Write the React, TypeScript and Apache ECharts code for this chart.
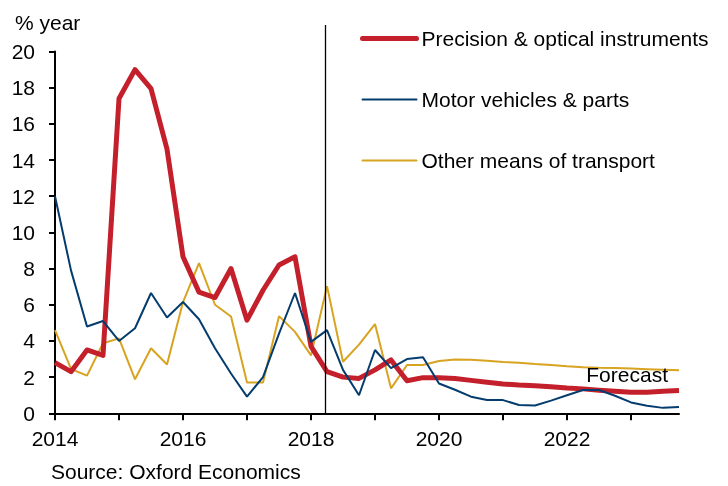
import { useEffect, useRef } from "react";
import * as echarts from "echarts";

const years = ["2014", "2015", "2016", "2017", "2018", "2019", "2020", "2021", "2022", "2023"];
const quarters = ["Q1", "Q2", "Q3", "Q4"];
const categories = years.flatMap((y) => quarters.map((q) => `${y} ${q}`));

const seriesNames = ["Precision & optical instruments", "Motor vehicles & parts", "Other means of transport"];

const precision = [
  2.8, 2.3, 3.5, 3.2, 17.4, 19.0, 17.95, 14.6,
  8.65, 6.7, 6.4, 8.0, 5.15, 6.8, 8.2, 8.65,
  3.7, 2.3, 2.0, 1.93, 2.4, 2.95, 1.8, 1.97,
  1.97, 1.92, 1.82, 1.72, 1.62, 1.56, 1.52, 1.47,
  1.4, 1.35, 1.28, 1.22, 1.16, 1.17, 1.22, 1.26,
];
const motor = [
  12.0, 7.9, 4.8, 5.1, 4.0, 4.7, 6.65, 5.3,
  6.15, 5.2, 3.6, 2.2, 0.92, 2.0, 4.4, 6.65,
  3.95, 4.6, 2.4, 1.0, 3.5, 2.5, 3.0, 3.1,
  1.65, 1.3, 0.92, 0.73, 0.73, 0.46, 0.43, 0.7,
  1.0, 1.29, 1.29, 0.97, 0.6, 0.42, 0.3, 0.35,
];
const other = [
  4.6, 2.45, 2.08, 3.87, 4.14, 1.88, 3.6, 2.7,
  6.15, 8.3, 6.0, 5.35, 1.7, 1.7, 5.37, 4.5,
  3.2, 7.03, 2.85, 3.8, 4.93, 1.38, 2.67, 2.67,
  2.89, 2.97, 2.96, 2.9, 2.84, 2.8, 2.73, 2.67,
  2.6, 2.55, 2.52, 2.5, 2.47, 2.44, 2.41, 2.38,
];

const forecastStart = "2018 Q2";
const yMin = 0;
const yMax = 20;
const yInterval = 2;

const FONT = "'Liberation Sans', Arial, sans-serif";
const RED = "#C3202B";
const NAVY = "#053C6E";
const GOLD = "#D8A321";
const colors = [RED, NAVY, GOLD];
const widths = [5, 2, 2];

export default function App() {
  const ref = useRef<HTMLDivElement>(null);
  useEffect(() => {
    if (!ref.current) return;
    const chart = echarts.init(ref.current, undefined, { renderer: "svg" });
    chart.setOption({
      animation: false,
      textStyle: { fontFamily: FONT },
      grid: { left: 55, right: 49, top: 51.5, bottom: 72.7, containLabel: false },
      legend: {
        orient: "vertical",
        left: 360,
        top: 28,
        padding: 0,
        itemWidth: 54,
        itemHeight: 14,
        itemGap: 40,
        itemStyle: { opacity: 0, borderWidth: 0 },
        data: seriesNames.map((name, i) => ({
          name,
          lineStyle: { color: colors[i], width: widths[i], cap: "round" },
          itemStyle: { opacity: 0, borderWidth: 0 },
        })),
        textStyle: { fontSize: 21, color: "#000", fontFamily: FONT, lineHeight: 21 },
      },
      xAxis: {
        type: "category",
        data: categories,
        boundaryGap: false,
        axisLine: { lineStyle: { color: "#000", width: 2 } },
        axisTick: {
          length: 7,
          interval: (i: number) => i % 4 === 0,
          lineStyle: { color: "#000", width: 2 },
        },
        axisLabel: {
          interval: (i: number) => i % 8 === 0,
          formatter: (v: string) => v.slice(0, 4),
          fontSize: 21,
          color: "#000",
          margin: 15,
          fontFamily: FONT,
        },
        splitLine: { show: false },
      },
      yAxis: {
        type: "value",
        min: yMin,
        max: yMax,
        interval: yInterval,
        axisLine: { show: true, lineStyle: { color: "#000", width: 2 } },
        axisTick: { show: true, length: 6, lineStyle: { color: "#000", width: 2 } },
        axisLabel: { fontSize: 21, color: "#000", margin: 20, fontFamily: FONT },
        splitLine: { show: false },
      },
      series: [
        {
          name: seriesNames[0],
          type: "line",
          data: precision,
          symbol: "none",
          lineStyle: { color: RED, width: 5, join: "round" },
          itemStyle: { color: RED },
          z: 3,
        },
        {
          name: seriesNames[1],
          type: "line",
          data: motor,
          symbol: "none",
          lineStyle: { color: NAVY, width: 2 },
          itemStyle: { color: NAVY },
          z: 4,
        },
        {
          name: seriesNames[2],
          type: "line",
          data: other,
          symbol: "none",
          lineStyle: { color: GOLD, width: 2 },
          itemStyle: { color: GOLD },
          z: 2,
        },
      ],
    });
    const xLine = chart.convertToPixel({ xAxisIndex: 0 }, forecastStart) as number;
    const yBottom = chart.convertToPixel({ yAxisIndex: 0 }, yMin) as number;
    chart.setOption({
      graphic: [
        {
          type: "line",
          shape: { x1: xLine - 1.5, y1: 25, x2: xLine - 1.5, y2: yBottom },
          style: { stroke: "#000", lineWidth: 1.3 },
          z: 10,
        },
        {
          type: "text",
          x: 15,
          y: 22,
          style: { text: "% year", font: `21px ${FONT}`, fill: "#000", verticalAlign: "middle", align: "left" },
        },
        {
          type: "text",
          x: 668,
          y: 374,
          style: { text: "Forecast", font: `21px ${FONT}`, fill: "#000", verticalAlign: "middle", align: "right" },
          z: 10,
        },
        {
          type: "text",
          x: 51,
          y: 471,
          style: { text: "Source: Oxford Economics", font: `21px ${FONT}`, fill: "#000", verticalAlign: "middle", align: "left" },
        },
      ],
    });
    return () => chart.dispose();
  }, []);
  return <div ref={ref} style={{ position: "fixed", left: 0, top: 0, width: 728, height: 486 }} />;
}
